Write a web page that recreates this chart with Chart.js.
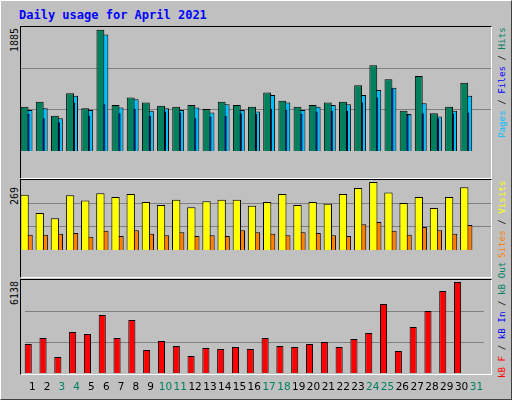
<!DOCTYPE html>
<html>
<head>
<meta charset="utf-8">
<script src="https://cdn.jsdelivr.net/npm/chart.js@4"></script>
<style>
  body { margin: 0; background: #fff; }
  #frame { position: absolute; left: 0; top: 0; width: 510px; height: 398px; background: #c0c0c0;
           border-top: 1px solid #fff; border-left: 1px solid #fff; border-right: 1px solid #404040; border-bottom: 1px solid #404040; }
  canvas { position: absolute; left: 21px; }
  .panel { position: absolute; left: 20px; width: 470px; border-top: 1px solid #000; border-left: 1px solid #000;
           border-right: 1px solid #fff; border-bottom: 1px solid #fff; background: #c0c0c0; }
  #title { position: absolute; left: 19px; top: 8px; font: bold 12px "DejaVu Sans Mono", monospace; color: #0000ff; }
  .rot { position: absolute; transform: rotate(-90deg); transform-origin: left top; white-space: nowrap;
         font: 10px "DejaVu Sans Mono", monospace; }
  .rot.r { font-size: 9.2px; }
</style>
</head>
<body>
<div id="frame"></div>
<div id="title">Daily usage for April 2021</div>
<div class="panel" style="top:26px;height:151px"></div>
<div class="panel" style="top:179px;height:97px"></div>
<div class="panel" style="top:279px;height:94px"></div>
<canvas id="c1" width="470" height="151" style="top:27px"></canvas>
<canvas id="c2" width="470" height="97" style="top:180px"></canvas>
<canvas id="c3" width="470" height="120" style="top:280px"></canvas>
<div class="rot" style="left:9px;top:52px;color:#000">1885</div>
<div class="rot" style="left:9px;top:205px;color:#000">269</div>
<div class="rot" style="left:9px;top:305px;color:#000">6138</div>
<div class="rot r" style="left:496px;top:138px"><span style="color:#00bfff">Pages</span><span style="color:#000"> / </span><span style="color:#0000ff">Files</span><span style="color:#000"> / </span><span style="color:#008060">Hits</span></div>
<div class="rot r" style="left:496px;top:258px"><span style="color:#ff8000">Sites</span><span style="color:#000"> / </span><span style="color:#ffff00">Visits</span></div>
<div class="rot r" style="left:496px;top:378px"><span style="color:#ff0000">kB F</span><span style="color:#000"> / </span><span style="color:#0000ff">kB In</span><span style="color:#000"> / </span><span style="color:#008060">kB Out</span></div>
<script>
// Daily values, April 2021
const days = ['1','2','3','4','5','6','7','8','9','10','11','12','13','14','15','16','17','18','19','20','21','22','23','24','25','26','27','28','29','30','31'];
const weekend = ['3','4','10','11','17','18','24','25','31'];
const hits = [674,750,536,876,649,1843,700,813,737,687,674,700,637,750,700,674,888,762,674,700,737,750,1001,1303,1089,612,1139,574,674,1039,null];
const files = [624,649,498,838,624,1772,662,788,612,649,624,662,586,712,624,599,850,737,624,674,700,712,850,926,963,561,725,524,612,838,null];
const pages = [561,498,436,737,536,712,574,637,536,599,586,498,524,536,574,561,637,624,561,599,612,612,737,813,951,549,574,498,574,586,null];
const visits = [212,142,122,210,190,218,204,215,184,173,193,164,187,193,193,170,184,215,173,184,178,215,238,261,221,181,204,161,204,241,null];
const sites = [59,59,62,65,51,74,54,76,62,57,68,54,57,54,76,68,62,57,68,65,57,54,99,108,74,59,88,76,62,96,null];
const kbytes = [1914,2310,1056,2706,2574,3828,2310,3498,1518,2112,1782,1122,1650,1584,1716,1584,2310,1782,1716,1914,2046,1716,2244,2640,4554,1452,3036,4092,5412,6006,null];

// shift a dataset sideways by dx pixels
const shiftPlugin = {
    id: 'shift',
    beforeDatasetDraw(chart, args) {
        const dx = chart.data.datasets[args.index].dx || 0;
        chart.ctx.save();
        chart.ctx.translate(dx, 0);
    },
    afterDatasetDraw(chart) {
        chart.ctx.restore();
    }
};

function bar(data, color, pct, dx) {
    return {
        data: data, backgroundColor: color, borderColor: '#000', borderWidth: 1,
        borderSkipped: 'bottom', grouped: false, barPercentage: pct, categoryPercentage: 1, dx: dx
    };
}

function makeChart(id, datasets, max, showX) {
    return new Chart(document.getElementById(id), {
        type: 'bar',
        data: { labels: days, datasets: datasets },
        plugins: [shiftPlugin],
        options: {
            responsive: false, animation: false, devicePixelRatio: 1,
            layout: { padding: 0 },
            plugins: { legend: { display: false }, tooltip: { enabled: false } },
            scales: {
                x: {
                    display: showX,
                    grid: { display: false, drawTicks: false },
                    border: { display: false },
                    ticks: {
                        padding: 8,
                        autoSkip: false, maxRotation: 0,
                        color: ctx => weekend.includes(days[ctx.index]) ? '#008060' : '#000',
                        font: { family: 'DejaVu Sans', size: 10.5 }
                    },
                    afterFit: s => { s.height = 27; }
                },
                y: {
                    display: true, min: 0, max: max,
                    afterBuildTicks: s => { s.ticks = [1, 2].map(k => ({ value: max * k / 3 })); },
                    ticks: { display: false },
                    grid: { color: '#808080', drawTicks: false },
                    border: { display: false },
                    afterFit: s => { s.width = 0; }
                }
            }
        }
    });
}

makeChart('c1', [
    bar(hits, '#00805c', 0.52, -4),
    bar(pages, '#0000c0', 0.4, -2),
    bar(files, '#00bfff', 0.52, 0)
], 1885, false);

makeChart('c2', [
    bar(visits, '#ffff00', 0.55, -4),
    bar(sites, '#ff8000', 0.48, 0.5)
], 269, false);

makeChart('c3', [
    bar(kbytes, '#ff0000', 0.48, -4)
], 6138, true);
</script>
</body>
</html>
